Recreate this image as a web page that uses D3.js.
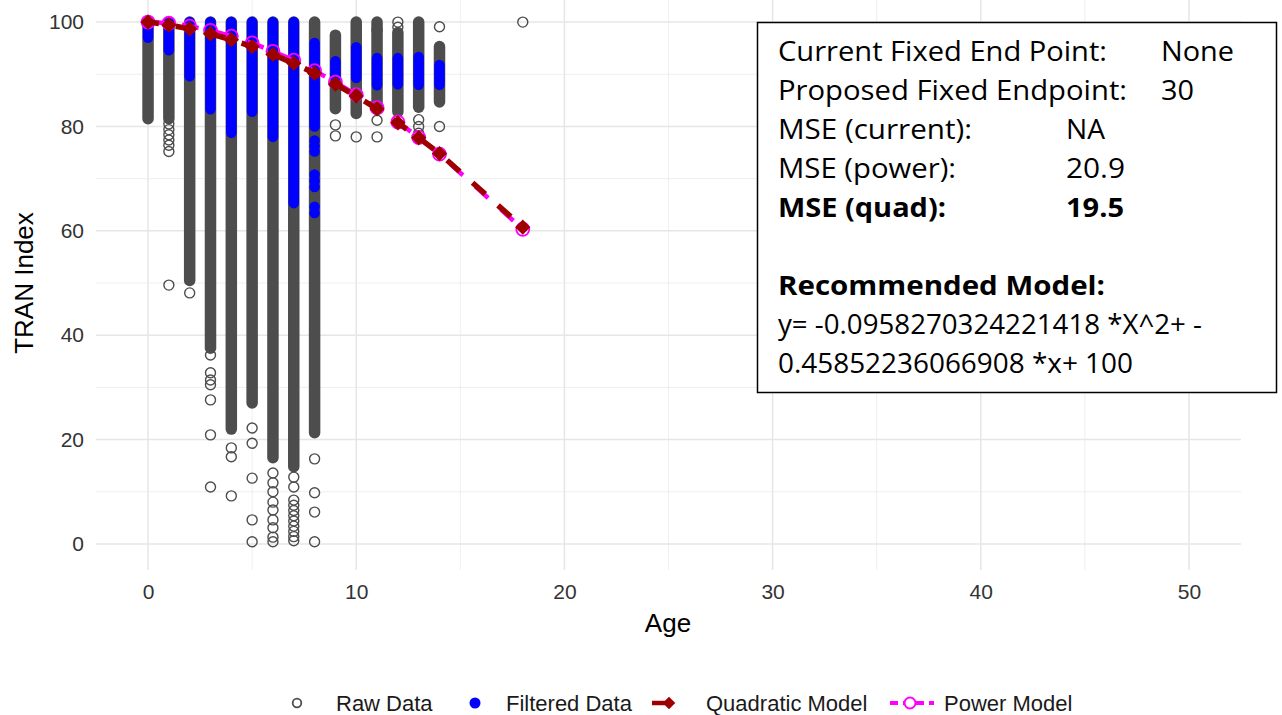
<!DOCTYPE html>
<html>
<head>
<meta charset="utf-8">
<script src="https://cdn.jsdelivr.net/npm/d3@7"></script>
<style>
html,body{margin:0;padding:0;background:#fff;}
svg{display:block;font-family:"Liberation Sans",Arial,sans-serif;}
</style>
</head>
<body>
<svg id="chart" width="1282" height="715"></svg>
<script>
// ---------- data ----------
const xTicks = [0, 10, 20, 30, 40, 50];
const yTicks = [0, 20, 40, 60, 80, 100];

// dense stacks of raw observations: age, lowest value, highest value
const rawSegAge = [0, 1, 2, 3, 4, 5, 6, 7, 8, 9, 10, 11, 12, 13, 14];
const rawSegLo  = [81.5, 81.5, 50.5, 37.5, 22, 27, 16.5, 14.8, 21.3, 83.4, 82.5, 83.4, 82.8, 83.7, 84.7];
const rawSegHi  = [100, 100, 100, 100, 100, 100, 100, 100, 100, 97.5, 100, 100, 98, 100, 95.3];

// isolated raw observations
const rawPtAge = [1,1,1,1,1,1,1, 2, 3,3,3,3,3,3,3, 4,4,4, 5,5,5,5,5,
  6,6,6,6,6,6,6,6,6, 7,7,7,7,7,7,7,7,7,7,7, 8,8,8,8, 9,9, 10, 11,11,11, 12,12, 13,13,13, 14,14, 18];
const rawPtVal = [80.5,79.4,78.4,77.4,76.4,75.2,49.6, 48.1,
  36.2,32.8,31.4,30.5,27.6,20.9,10.9, 18.4,16.7,9.2, 22.2,19.3,12.6,4.6,0.4,
  13.6,11.7,10,8,6.5,4.6,3.1,1.3,0.4, 12.8,10.9,8.4,7.4,6.4,5.4,4.4,3.4,2.4,1.4,0.6,
  16.3,9.8,6.1,0.4, 80.3,78.2, 78.0, 98.5,81.2,78.0, 100,99, 81.3,80,78.7, 99.1,80.0, 100];

// dense stacks of filtered observations
const blueSegAge = [0, 1, 2, 3, 4, 5, 6, 7, 8, 9, 10, 11, 12, 13, 14];
const blueSegLo  = [97, 94.6, 89.6, 83.3, 78.8, 82.8, 78, 65.3, 80, 89.5, 89.3, 87.9, 88.1, 88, 88];
const blueSegHi  = [100, 100, 100, 100, 100, 100, 100, 100, 96, 92.5, 95.2, 93.1, 93.1, 93.3, 91.8];
// isolated filtered observations
const bluePtAge = [8, 8, 8, 8, 8, 8, 8, 8];
const bluePtVal = [77.3, 76.2, 75.2, 70.8, 69.6, 68.4, 64.6, 63.4];

// model curves
const modelAges  = [0, 1, 2, 3, 4, 5, 6, 7, 8, 9, 10, 11, 12, 13, 14, 18];
const quadVals   = [100, 99.45, 98.70, 97.76, 96.63, 95.31, 93.80, 92.09, 90.20, 88.11, 85.83, 83.36, 80.70, 77.84, 74.80, 60.70];
const powerVals  = [100, 99.78, 99.22, 98.4, 97.3, 96.0, 94.4, 92.7, 90.7, 88.5, 86.1, 83.6, 80.85, 77.9, 74.7, 60.3];

const legendLabels = ["Raw Data", "Filtered Data", "Quadratic Model", "Power Model"];
const boxLabels = ["Current Fixed End Point:", "Proposed Fixed Endpoint:", "MSE (current):", "MSE (power):", "MSE (quad):"];
const boxValues = ["None", "30", "NA", "20.9", "19.5"];
const recTitle = "Recommended Model:";
const recLines = ["y= -0.0958270324221418 *X^2+ -", "0.45852236066908 *x+ 100"];

// ---------- drawing ----------
const svg = d3.select("#chart");
const x = d3.scaleLinear().domain([-2.5, 52.5]).range([96, 1241]);
const y = d3.scaleLinear().domain([-5, 105]).range([570, -4]);

const GRAY = "#4d4d4d", BLUE = "#0000ff", RED = "#9e0000", MAG = "#ff00ff";

// grid
const grid = svg.append("g");
const xMinor = [5, 15, 25, 35, 45], yMinor = [10, 30, 50, 70, 90];
grid.selectAll(".xm").data(xMinor).join("line")
  .attr("x1", d => x(d)).attr("x2", d => x(d)).attr("y1", -4).attr("y2", 570)
  .attr("stroke", "#ebebeb").attr("stroke-width", 0.8);
grid.selectAll(".ym").data(yMinor).join("line")
  .attr("x1", 96).attr("x2", 1241).attr("y1", d => y(d)).attr("y2", d => y(d))
  .attr("stroke", "#ebebeb").attr("stroke-width", 0.8);
grid.selectAll(".xM").data(xTicks).join("line")
  .attr("x1", d => x(d)).attr("x2", d => x(d)).attr("y1", -4).attr("y2", 570)
  .attr("stroke", "#e6e6e6").attr("stroke-width", 1.5);
grid.selectAll(".yM").data(yTicks).join("line")
  .attr("x1", 96).attr("x2", 1241).attr("y1", d => y(d)).attr("y2", d => y(d))
  .attr("stroke", "#e6e6e6").attr("stroke-width", 1.5);

// axes
const ax = svg.append("g").attr("transform", "translate(0,570)")
  .call(d3.axisBottom(x).tickValues(xTicks).tickSize(0).tickPadding(14));
const ay = svg.append("g").attr("transform", "translate(96,0)")
  .call(d3.axisLeft(y).tickValues(yTicks).tickSize(0).tickPadding(12));
[ax, ay].forEach(a => {
  a.select(".domain").remove();
  a.selectAll("text").attr("font-size", 21).attr("fill", "#333")
    .attr("font-family", "Liberation Sans, Arial, sans-serif");
});

svg.append("text").attr("x", 668).attr("y", 632).attr("text-anchor", "middle")
  .attr("font-size", 26).attr("fill", "#000").text("Age");
svg.append("text").attr("transform", "translate(33,283) rotate(-90)").attr("text-anchor", "middle")
  .attr("font-size", 26).attr("fill", "#000").text("TRAN Index");

// raw data stacks
const plot = svg.append("g");
plot.selectAll(".rawseg").data(rawSegAge.map((a, i) => ({a, lo: rawSegLo[i], hi: rawSegHi[i]}))).join("line")
  .attr("x1", d => x(d.a)).attr("x2", d => x(d.a))
  .attr("y1", d => y(d.hi)).attr("y2", d => y(d.lo))
  .attr("stroke", GRAY).attr("stroke-width", 11.5).attr("stroke-linecap", "round");
plot.selectAll(".rawpt").data(rawPtAge.map((a, i) => ({a, v: rawPtVal[i]}))).join("circle")
  .attr("cx", d => x(d.a)).attr("cy", d => y(d.v)).attr("r", 5)
  .attr("fill", "none").attr("stroke", GRAY).attr("stroke-width", 1.4);

// filtered data
plot.selectAll(".blueseg").data(blueSegAge.map((a, i) => ({a, lo: blueSegLo[i], hi: blueSegHi[i]}))).join("line")
  .attr("x1", d => x(d.a)).attr("x2", d => x(d.a))
  .attr("y1", d => y(d.hi)).attr("y2", d => y(d.lo))
  .attr("stroke", BLUE).attr("stroke-width", 10.5).attr("stroke-linecap", "round");
plot.selectAll(".bluept").data(bluePtAge.map((a, i) => ({a, v: bluePtVal[i]}))).join("circle")
  .attr("cx", d => x(d.a)).attr("cy", d => y(d.v)).attr("r", 5.25).attr("fill", BLUE);

// models
const powerData = modelAges.map((a, i) => ({a, v: powerVals[i]}));
const quadData = modelAges.map((a, i) => ({a, v: quadVals[i]}));
const line = d3.line().x(d => x(d.a)).y(d => y(d.v));
plot.append("path").datum(powerData).attr("d", line).attr("fill", "none")
  .attr("stroke", MAG).attr("stroke-width", 4.5).attr("stroke-dasharray", "17 17");
plot.selectAll(".pwpt").data(powerData).join("circle")
  .attr("cx", d => x(d.a)).attr("cy", d => y(d.v)).attr("r", 6.5)
  .attr("fill", "none").attr("stroke", MAG).attr("stroke-width", 1.8);
plot.append("path").datum(quadData).attr("d", line).attr("fill", "none")
  .attr("stroke", RED).attr("stroke-width", 5.5).attr("stroke-dasharray", "17 17").attr("stroke-dashoffset", 6);
const diamond = d3.symbol().type(d3.symbolDiamond2).size(150);
plot.selectAll(".qdpt").data(quadData).join("path")
  .attr("d", diamond).attr("transform", d => `translate(${x(d.a)},${y(d.v)})`)
  .attr("fill", RED);

// info box
const BOXFONT = "Open Sans, Liberation Sans, Arial, sans-serif";
const box = svg.append("g").attr("font-family", BOXFONT).attr("fill", "#000");
box.append("rect").attr("x", 757.5).attr("y", 22.5).attr("width", 519).attr("height", 370)
  .attr("fill", "#fff").attr("stroke", "#000").attr("stroke-width", 1.5);
const valX = [1161, 1161, 1066, 1066, 1066];
const labelW = [329, 349, 194, 178, 168];
const valueW = [73, 33, 39, 59, 58];
function boxText(xp, yp, t, w, bold) {
  box.append("text").attr("x", xp).attr("y", yp).attr("font-size", 27)
    .attr("font-weight", bold ? "bold" : "normal")
    .attr("textLength", w).attr("lengthAdjust", "spacingAndGlyphs").text(t);
}
boxLabels.forEach((t, i) => {
  boxText(778, 61 + 39 * i, t, labelW[i], i === 4);
  boxText(valX[i], 61 + 39 * i, boxValues[i], valueW[i], i === 4);
});
boxText(778, 295, recTitle, 327, true);
boxText(778, 334, recLines[0], 424, false);
boxText(778, 373, recLines[1], 355, false);

// legend
const lg = svg.append("g").attr("font-family", "Liberation Sans, Arial, sans-serif");
const ly = 703;
lg.append("circle").attr("cx", 297).attr("cy", ly).attr("r", 4.3).attr("fill", "none")
  .attr("stroke", GRAY).attr("stroke-width", 1.8);
lg.append("circle").attr("cx", 475).attr("cy", ly).attr("r", 5.5).attr("fill", BLUE);
lg.append("line").attr("x1", 652).attr("x2", 666).attr("y1", ly).attr("y2", ly)
  .attr("stroke", RED).attr("stroke-width", 4.5);
lg.append("path").attr("d", d3.symbol().type(d3.symbolDiamond2).size(100)).attr("transform", `translate(669,${ly})`).attr("fill", RED);
lg.append("line").attr("x1", 890).attr("x2", 934).attr("y1", ly).attr("y2", ly)
  .attr("stroke", MAG).attr("stroke-width", 4).attr("stroke-dasharray", "8 5");
lg.append("circle").attr("cx", 910).attr("cy", ly).attr("r", 5.5).attr("fill", "#fff")
  .attr("stroke", MAG).attr("stroke-width", 2);
const lgX = [336, 506, 706, 944];
legendLabels.forEach((t, i) => {
  lg.append("text").attr("x", lgX[i]).attr("y", ly + 8).attr("font-size", 22).attr("fill", "#1a1a1a").text(t);
});
</script>
</body>
</html>
